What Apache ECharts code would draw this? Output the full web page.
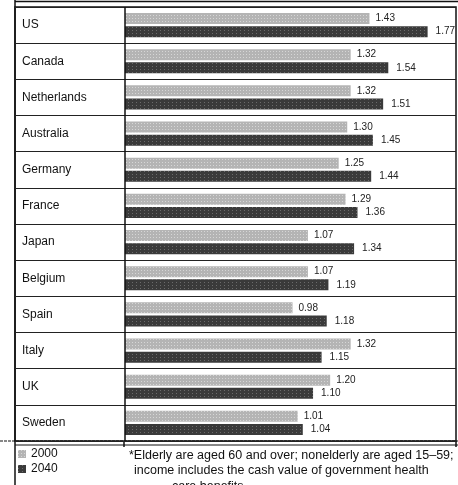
<!DOCTYPE html>
<html>
<head>
<meta charset="utf-8">
<script src="https://cdn.jsdelivr.net/npm/echarts@6/dist/echarts.min.js"></script>
<style>
html,body{margin:0;padding:0;background:#fff;}
#chart{width:458px;height:485px;}
</style>
</head>
<body>
<div id="chart"></div>
<script>
const countries = ['US','Canada','Netherlands','Australia','Germany','France','Japan','Belgium','Spain','Italy','UK','Sweden'];
const values2000 = [1.43,1.32,1.32,1.30,1.25,1.29,1.07,1.07,0.98,1.32,1.20,1.01];
const values2040 = [1.77,1.54,1.51,1.45,1.44,1.36,1.34,1.19,1.18,1.15,1.10,1.04];
const seriesNames = ['2000','2040'];
const footnote = [
  '*Elderly are aged 60 and over; nonelderly are aged 15\u201359;',
  'income includes the cash value of government health',
  'care benefits.'
];

const FONT = '"Liberation Sans", Arial, sans-serif';
const chart = echarts.init(document.getElementById('chart'), null, {renderer:'canvas'});

const labelStyle = {
  show: true, position: 'right', distance: 6,
  formatter: p => p.value.toFixed(2),
  fontFamily: FONT, fontSize: 10, color: '#222'
};

chart.setOption({
  backgroundColor: '#fff',
  animation: false,
  textStyle: {fontFamily: FONT},
  grid: {left: 15, right: 2, top: 7, bottom: 44, show: true, borderColor: '#111', borderWidth: 1.5},
  xAxis: {
    type: 'value', min: -0.643, max: 1.936,
    show: false
  },
  yAxis: {
    type: 'category', data: countries, inverse: true,
    axisLine: {show: false, onZero: false},
    axisTick: {show: false},
    splitLine: {show: true, lineStyle: {color: '#222', width: 1.2}},
    axisLabel: {inside: true, margin: 7, fontSize: 12, color: '#111', fontFamily: FONT}
  },
  legend: {
    orient: 'vertical', left: 18, top: 448, padding: 0,
    itemWidth: 8, itemHeight: 8, itemGap: 3,
    icon: 'rect',
    textStyle: {fontSize: 12, color: '#111', fontFamily: FONT},
    data: seriesNames
  },
  series: [
    {
      name: seriesNames[0], type: 'bar', data: values2000,
      barWidth: 11, barGap: '20%',
      itemStyle: {color: '#b4b4b4',
        decal: {symbol: 'rect', color: 'rgba(255,255,255,0.45)', dashArrayX: [1,2], dashArrayY: [1,2], symbolSize: 1, rotation: 0}},
      label: labelStyle,
      markLine: {
        silent: true, symbol: 'none', label: {show: false},
        lineStyle: {color: '#111', width: 1.5, type: 'solid'},
        data: [{xAxis: 0}]
      }
    },
    {
      name: seriesNames[1], type: 'bar', data: values2040,
      barWidth: 11,
      itemStyle: {color: '#3a3a3a',
        decal: {symbol: 'rect', color: 'rgba(200,200,200,0.35)', dashArrayX: [1,3], dashArrayY: [1,2], symbolSize: 1, rotation: 0}},
      label: Object.assign({}, labelStyle, {distance: 8})
    }
  ],
  graphic: [
    {type: 'line', shape: {x1: 15, y1: 1.5, x2: 458, y2: 1.5}, style: {stroke: '#111', lineWidth: 1.5}},
    {type: 'line', shape: {x1: 15, y1: 0, x2: 15, y2: 485}, style: {stroke: '#111', lineWidth: 1.5}},
    {type: 'line', shape: {x1: 0, y1: 441, x2: 458, y2: 441}, style: {stroke: '#111', lineWidth: 1.2, lineDash: [3,1]}},
    {type: 'line', shape: {x1: 15, y1: 445, x2: 458, y2: 445}, style: {stroke: '#111', lineWidth: 1}},
    {type: 'line', shape: {x1: 124, y1: 441, x2: 124, y2: 447}, style: {stroke: '#111', lineWidth: 1.5}},
    {type: 'line', shape: {x1: 456, y1: 441, x2: 456, y2: 447}, style: {stroke: '#111', lineWidth: 1.5}},
    {type: 'text', left: 129, top: 449, style: {text: footnote[0], font: '12.5px ' + FONT, fill: '#111'}},
    {type: 'text', left: 134, top: 464, style: {text: footnote[1], font: '12.5px ' + FONT, fill: '#111'}},
    {type: 'text', left: 172, top: 480, style: {text: footnote[2], font: '12.5px ' + FONT, fill: '#111'}}
  ]
});
</script>
</body>
</html>
